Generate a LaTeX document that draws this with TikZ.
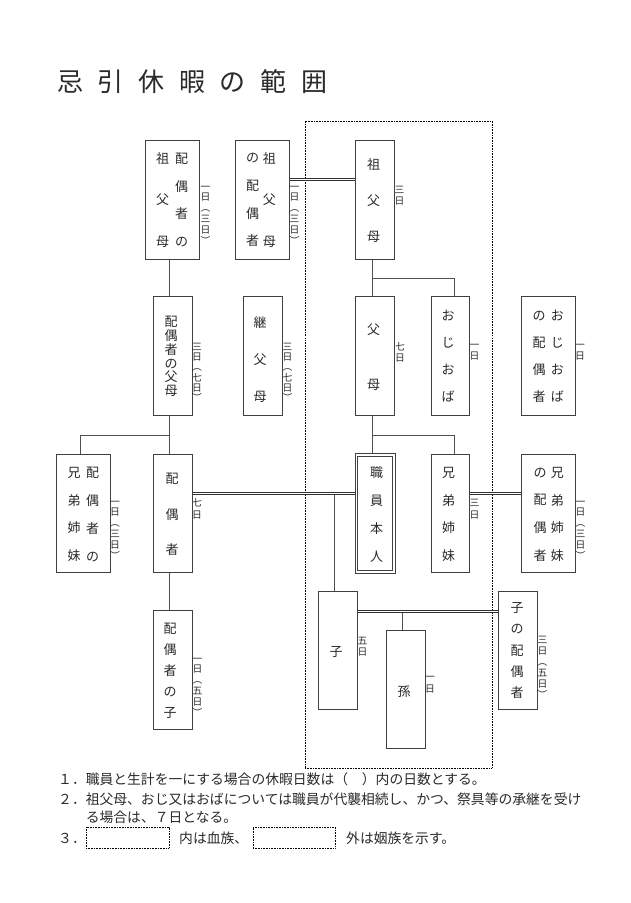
\documentclass[tikz,border=0pt]{standalone}
\usepackage{fontspec}
\setmainfont{Noto Sans CJK JP}
\definecolor{boxc}{HTML}{404040}
\definecolor{linec}{HTML}{505050}
\definecolor{txtc}{HTML}{2a2a2a}
\definecolor{dblc}{HTML}{303030}
\newcommand\tsp{\hspace{14.7pt}}
\begin{document}
\begin{tikzpicture}[x=1pt,y=-1pt,
  vt/.style={inner sep=0pt, align=center, text=txtc, font=\fontsize{13}{#1}\selectfont},
  lb/.style={inner sep=0pt, align=center, text=txtc, font=\fontsize{9.8}{#1}\selectfont},
  ln/.style={draw=linec, line width=0.8pt},
  dl/.style={draw=dblc, line width=0.85pt, double=white, double distance=1.1pt},
  dt/.style={draw=black, line width=0.8pt, dash pattern=on 0.8pt off 0.8pt, inner sep=0pt},
  bxline/.style={draw=boxc, line width=0.8pt, fill=white},
  nt/.style={anchor=west, inner sep=0pt, text=txtc, font=\fontsize{13.8}{16}\selectfont}]
\useasboundingbox (0,0) rectangle (630,903);
\fill[white] (0,0) rectangle (630,903);

% title
\node[anchor=west, inner sep=0pt, text=txtc, font=\fontsize{26}{26}\selectfont] (title) at (57,82)
  {忌\tsp 引\tsp 休\tsp 暇\tsp の\tsp 範\tsp 囲};

% blood-relative frame
\node[dt, minimum width=187pt, minimum height=647pt] (frame) at (398.5,444.5) {};

% coordinates for connector columns and rows
\coordinate (cA) at (169,0);
\coordinate (cB) at (372,0);
\coordinate (cC) at (454,0);
\coordinate (cD) at (80,0);
\coordinate (cE) at (334,0);
\coordinate (cF) at (402,0);
\coordinate (hA) at (0,179.5);
\coordinate (hB) at (0,337);
\coordinate (hC) at (0,493.5);
\coordinate (hD) at (0,611.5);
\coordinate (j1) at (372,278);
\coordinate (j2) at (169,435);
\coordinate (j3) at (372,435);

% boxes (placed first as coordinates for connectors)
\path
  (172.5,200) node[minimum width=53pt, minimum height=118pt, inner sep=0pt] (sgp) {}
  (262.5,200) node[minimum width=53pt, minimum height=118pt, inner sep=0pt] (gpsp) {}
  (375,200) node[minimum width=38pt, minimum height=118pt, inner sep=0pt] (gp) {}
  (173,356) node[minimum width=38pt, minimum height=118pt, inner sep=0pt] (spar) {}
  (263,356) node[minimum width=38pt, minimum height=118pt, inner sep=0pt] (stp) {}
  (375,356) node[minimum width=38pt, minimum height=118pt, inner sep=0pt] (par) {}
  (450.5,356) node[minimum width=37pt, minimum height=118pt, inner sep=0pt] (unc) {}
  (548.5,356) node[minimum width=53pt, minimum height=118pt, inner sep=0pt] (uncsp) {}
  (83.5,513.5) node[minimum width=53pt, minimum height=117pt, inner sep=0pt] (spsib) {}
  (173,513.5) node[minimum width=38pt, minimum height=117pt, inner sep=0pt] (spouse) {}
  (375,513.5) node[minimum width=37pt, minimum height=117pt, inner sep=0pt] (self) {}
  (450.5,513.5) node[minimum width=37pt, minimum height=117pt, inner sep=0pt] (sib) {}
  (548.5,513.5) node[minimum width=53pt, minimum height=117pt, inner sep=0pt] (sibsp) {}
  (173,670) node[minimum width=38pt, minimum height=118pt, inner sep=0pt] (spchild) {}
  (338,650.5) node[minimum width=38pt, minimum height=117pt, inner sep=0pt] (child) {}
  (406,689.5) node[minimum width=38pt, minimum height=117pt, inner sep=0pt] (gchild) {}
  (518,650.5) node[minimum width=38pt, minimum height=117pt, inner sep=0pt] (chsp) {};

% single connectors
\draw[ln] (sgp.south -| cA) -- (spar.north -| cA);
\draw[ln] (gp.south -| cB) -- (par.north -| cB);
\draw[ln] (j1) -| (unc.north -| cC);
\draw[ln] (spar.south -| cA) -- (spouse.north -| cA);
\draw[ln] (j2) -| (spsib.north -| cD);
\draw[ln] (par.south -| cB) -- (self.north -| cB);
\draw[ln] (j3) -| (sib.north -| cC);
\draw[ln] (spouse.south -| cA) -- (spchild.north -| cA);
\draw[ln] (hC -| cE) -- (child.north -| cE);
\draw[ln] (hD -| cF) -- (gchild.north -| cF);

% double connectors
\draw[dl] (gpsp.east |- hA) -- (gp.west |- hA);
\draw[dl] (stp.east |- hB) -- (par.west |- hB);
\draw[dl] (unc.east |- hB) -- (uncsp.west |- hB);
\draw[dl] (spouse.east |- hC) -- (self.west |- hC);
\draw[dl] (sib.east |- hC) -- (sibsp.west |- hC);
\draw[dl] (child.east |- hD) -- (chsp.west |- hD);

% drawn boxes
\foreach \n in {sgp,gpsp,gp,spar,stp,par,unc,uncsp,spsib,spouse,sib,sibsp,spchild,child,gchild,chsp}
  \draw[bxline] (\n.north west) rectangle (\n.south east);
% double-bordered box of the employee
\draw[bxline] ([shift={(-1.4,-1.4)}]self.north west) rectangle ([shift={(1.4,1.4)}]self.south east);
\draw[bxline] ([shift={(1.4,1.4)}]self.north west) rectangle ([shift={(-1.4,-1.4)}]self.south east);

% box texts
\node[vt=27.8] (tsgpR) at (181.7,200) {配\\偶\\者\\の};
\node[vt=41.7] (tsgpL) at (162.7,200) {祖\\父\\母};
\node[vt=41.7] (tgpspR) at (269.3,200) {祖\\父\\母};
\node[vt=27.8] (tgpspL) at (252.7,200) {の\\配\\偶\\者};
\node[vt=36] (tgp) at (373.5,201) {祖\\父\\母};
\node[vt=13.8] (tspar) at (171,356.5) {配\\偶\\者\\の\\父\\母};
\node[vt=37] (tstp) at (260,360) {継\\父\\母};
\node[vt=55] (tpar) at (373.5,357.5) {父\\母};
\node[vt=27] (tunc) at (448,356.5) {お\\じ\\お\\ば};
\node[vt=27] (tuncspR) at (557.3,356.5) {お\\じ\\お\\ば};
\node[vt=27] (tuncspL) at (539,356.5) {の\\配\\偶\\者};
\node[vt=27.7] (tspsibR) at (92.7,514.5) {配\\偶\\者\\の};
\node[vt=27.7] (tspsibL) at (74,514.5) {兄\\弟\\姉\\妹};
\node[vt=35.5] (tspouse) at (172,514.5) {配\\偶\\者};
\node[vt=27.7] (tself) at (376.5,514.5) {職\\員\\本\\人};
\node[vt=27.7] (tsib) at (448.5,514.5) {兄\\弟\\姉\\妹};
\node[vt=27.7] (tsibspR) at (557.3,514.5) {兄\\弟\\姉\\妹};
\node[vt=27.7] (tsibspL) at (540,514.5) {の\\配\\偶\\者};
\node[vt=21] (tspchild) at (170,671) {配\\偶\\者\\の\\子};
\node[vt=15] (tchild) at (336,652) {子};
\node[vt=15] (tgchild) at (404,692) {孫};
\node[vt=21.25] (tchsp) at (517,650.5) {子\\の\\配\\偶\\者};

% day labels
\node[lb=10.8] (lsgp) at (205.5,215) {一\\日\\︵\\三\\日\\︶};
\node[lb=10.8] (lgpsp) at (294.5,215) {一\\日\\︵\\三\\日\\︶};
\node[lb=11] (lgp) at (399.5,195.5) {三\\日};
\node[lb=10.3] (lspar) at (197,372.5) {三\\日\\︵\\七\\日\\︶};
\node[lb=10.3] (lstp) at (287.5,372.5) {三\\日\\︵\\七\\日\\︶};
\node[lb=11] (lpar) at (400,352.5) {七\\日};
\node[lb=11] (lunc) at (474.5,352.5) {一\\日};
\node[lb=11] (luncsp) at (580,352.5) {一\\日};
\node[lb=10.8] (lspsib) at (115,530) {一\\日\\︵\\三\\日\\︶};
\node[lb=12] (lspouse) at (197,509) {七\\日};
\node[lb=12] (lsib) at (474.5,509) {三\\日};
\node[lb=10.8] (lsibsp) at (580.5,530) {一\\日\\︵\\三\\日\\︶};
\node[lb=10.8] (lspchild) at (197.5,687) {一\\日\\︵\\五\\日\\︶};
\node[lb=11] (lchild) at (362.5,646.5) {五\\日};
\node[lb=12] (lgchild) at (430,685) {一\\日};
\node[lb=11] (lchsp) at (542.5,667.5) {三\\日\\︵\\五\\日\\︶};

% notes
\node[nt] (n1) at (58,779) {１．職員と生計を一にする場合の休暇日数は（　）内の日数とする。};
\node[nt] (n2) at (58,799) {２．祖父母、おじ又はおばについては職員が代襲相続し、かつ、祭具等の承継を受け};
\node[nt] (n2b) at (85.6,817) {る場合は、７日となる。};
\node[nt] (n3) at (58,838) {３．};
\node[dt, minimum width=83pt, minimum height=21pt] (k1) at (127.5,837.5) {};
\node[nt] (n3b) at (179,838) {内は血族、};
\node[dt, minimum width=82pt, minimum height=21pt] (k2) at (294,837.5) {};
\node[nt] (n3c) at (346,838) {外は姻族を示す。};
\end{tikzpicture}
\end{document}
